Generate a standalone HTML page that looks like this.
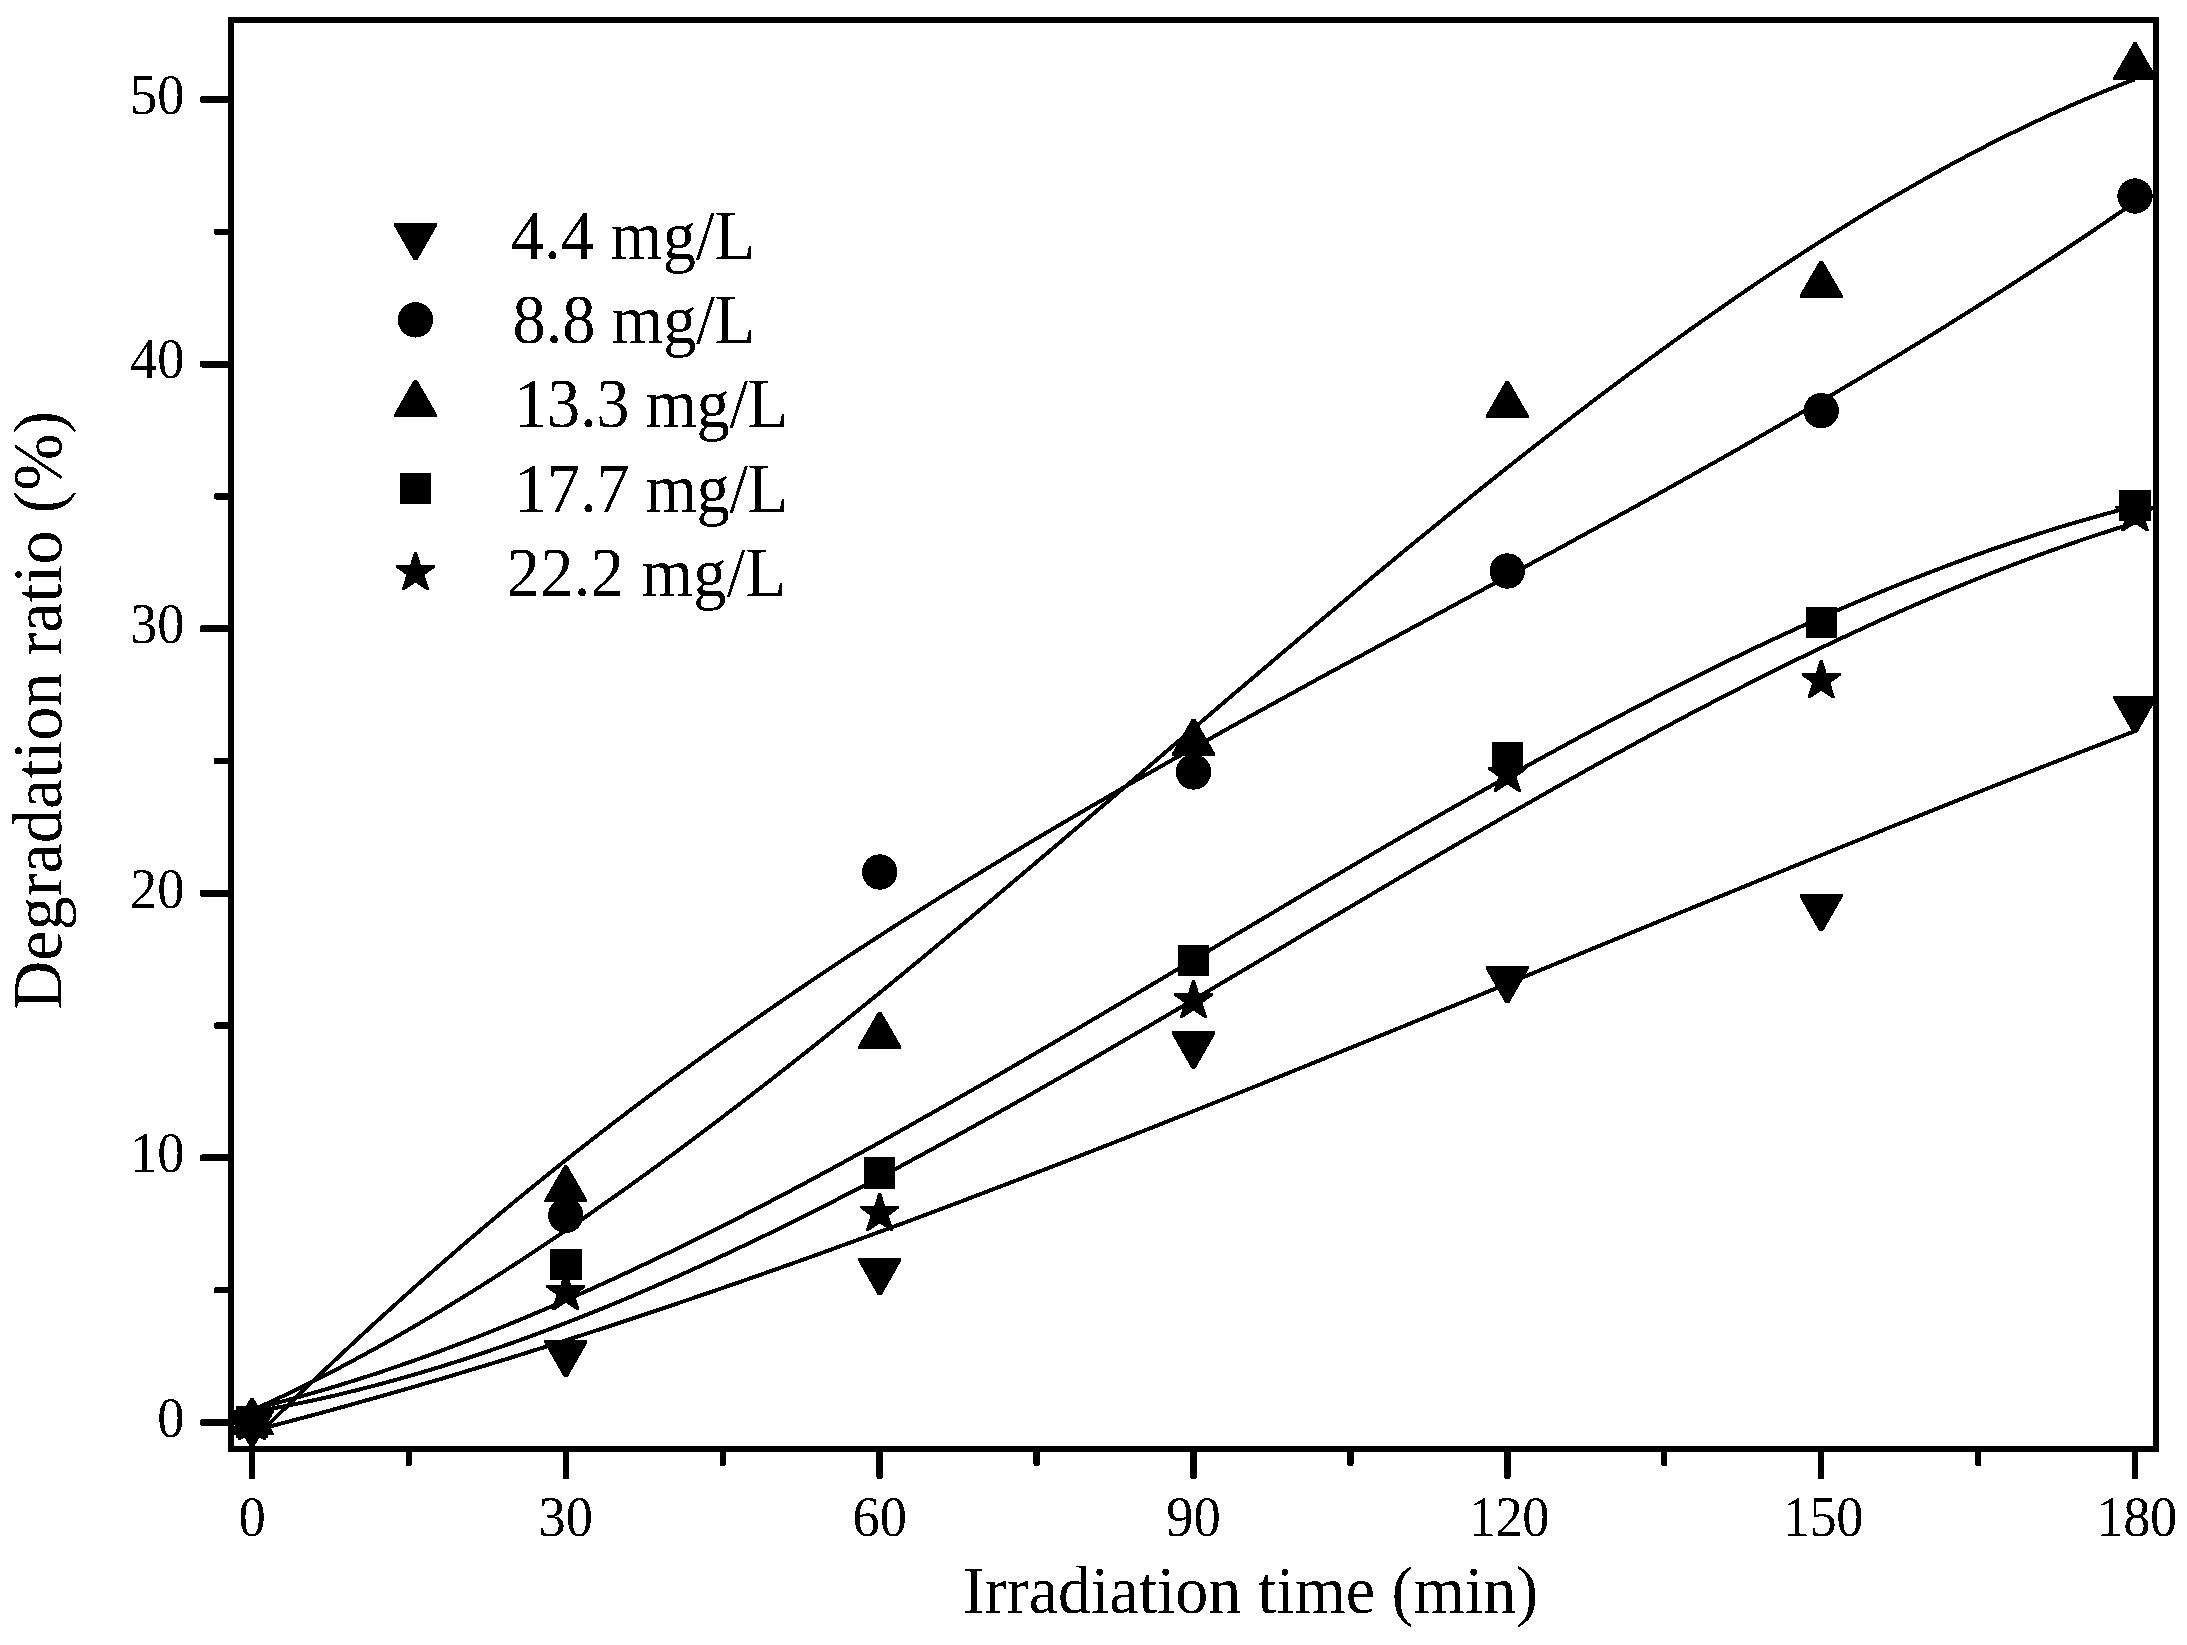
<!DOCTYPE html>
<html lang="en"><head><meta charset="utf-8"><title>Degradation ratio vs irradiation time</title>
<style>html,body{margin:0;padding:0;background:#fff;overflow:hidden}body{width:2187px;height:1645px;overflow:hidden}svg{display:block}text{font-family:'Liberation Serif', serif;fill:#000}</style></head><body>
<svg width="2187" height="1645" shape-rendering="crispEdges" viewBox="0 0 2187 1645">
<rect width="2187" height="1645" fill="#fff"/>
<defs><filter id="bilevel" x="0" y="0" width="100%" height="100%" filterUnits="userSpaceOnUse" color-interpolation-filters="sRGB"><feComponentTransfer><feFuncA type="discrete" tableValues="0 1"/></feComponentTransfer></filter></defs>
<g fill="none" stroke="#000" stroke-width="4.0" stroke-linejoin="round">
<polyline points="252.0,1431.1 272.9,1425.7 293.8,1420.2 314.8,1414.6 335.7,1408.9 356.6,1403.1 377.5,1397.2 398.5,1391.3 419.4,1385.2 440.3,1379.1 461.2,1372.8 482.1,1366.5 503.1,1360.1 524.0,1353.6 544.9,1347.0 565.8,1340.3 586.8,1333.6 607.7,1326.7 628.6,1319.8 649.5,1312.9 670.4,1305.8 691.4,1298.7 712.3,1291.5 733.2,1284.3 754.1,1277.0 775.1,1269.6 796.0,1262.2 816.9,1254.7 837.8,1247.1 858.7,1239.5 879.7,1231.8 900.6,1224.1 921.5,1216.3 942.4,1208.5 963.4,1200.6 984.3,1192.6 1005.2,1184.7 1026.1,1176.6 1047.0,1168.6 1068.0,1160.5 1088.9,1152.3 1109.8,1144.2 1130.7,1135.9 1151.7,1127.7 1172.6,1119.4 1193.5,1111.1 1214.4,1102.7 1235.3,1094.4 1256.3,1086.0 1277.2,1077.5 1298.1,1069.1 1319.0,1060.6 1340.0,1052.1 1360.9,1043.6 1381.8,1035.1 1402.7,1026.6 1423.6,1018.0 1444.6,1009.4 1465.5,1000.9 1486.4,992.3 1507.3,983.7 1528.3,975.1 1549.2,966.5 1570.1,957.9 1591.0,949.3 1611.9,940.7 1632.9,932.1 1653.8,923.5 1674.7,914.9 1695.6,906.4 1716.6,897.8 1737.5,889.3 1758.4,880.7 1779.3,872.2 1800.2,863.7 1821.2,855.2 1842.1,846.7 1863.0,838.3 1883.9,829.8 1904.9,821.4 1925.8,813.1 1946.7,804.7 1967.6,796.4 1988.5,788.1 2009.5,779.8 2030.4,771.6 2051.3,763.4 2072.2,755.3 2093.2,747.2 2114.1,739.1 2135.0,731.1"/>
<polyline points="252.0,1441.0 272.9,1420.1 293.8,1399.6 314.8,1379.4 335.7,1359.5 356.6,1339.9 377.5,1320.6 398.5,1301.6 419.4,1282.9 440.3,1264.6 461.2,1246.5 482.1,1228.7 503.1,1211.1 524.0,1193.9 544.9,1176.9 565.8,1160.1 586.8,1143.6 607.7,1127.4 628.6,1111.4 649.5,1095.6 670.4,1080.0 691.4,1064.7 712.3,1049.6 733.2,1034.7 754.1,1020.0 775.1,1005.5 796.0,991.2 816.9,977.1 837.8,963.1 858.7,949.4 879.7,935.8 900.6,922.3 921.5,909.1 942.4,895.9 963.4,882.9 984.3,870.1 1005.2,857.4 1026.1,844.8 1047.0,832.3 1068.0,820.0 1088.9,807.7 1109.8,795.6 1130.7,783.5 1151.7,771.6 1172.6,759.7 1193.5,747.9 1214.4,736.2 1235.3,724.5 1256.3,712.9 1277.2,701.4 1298.1,689.9 1319.0,678.4 1340.0,667.0 1360.9,655.7 1381.8,644.3 1402.7,633.0 1423.6,621.7 1444.6,610.3 1465.5,599.0 1486.4,587.7 1507.3,576.4 1528.3,565.0 1549.2,553.7 1570.1,542.3 1591.0,530.8 1611.9,519.4 1632.9,507.9 1653.8,496.3 1674.7,484.7 1695.6,473.0 1716.6,461.2 1737.5,449.4 1758.4,437.4 1779.3,425.4 1800.2,413.3 1821.2,401.1 1842.1,388.8 1863.0,376.4 1883.9,363.9 1904.9,351.2 1925.8,338.4 1946.7,325.5 1967.6,312.4 1988.5,299.2 2009.5,285.8 2030.4,272.3 2051.3,258.6 2072.2,244.7 2093.2,230.7 2114.1,216.4 2135.0,202.0"/>
<polyline points="252.0,1410.5 272.9,1400.8 293.8,1390.9 314.8,1380.5 335.7,1369.8 356.6,1358.7 377.5,1347.3 398.5,1335.5 419.4,1323.4 440.3,1311.0 461.2,1298.3 482.1,1285.3 503.1,1271.9 524.0,1258.4 544.9,1244.5 565.8,1230.4 586.8,1216.0 607.7,1201.3 628.6,1186.5 649.5,1171.4 670.4,1156.1 691.4,1140.5 712.3,1124.8 733.2,1108.9 754.1,1092.8 775.1,1076.5 796.0,1060.1 816.9,1043.5 837.8,1026.7 858.7,1009.8 879.7,992.8 900.6,975.7 921.5,958.5 942.4,941.1 963.4,923.7 984.3,906.2 1005.2,888.6 1026.1,870.9 1047.0,853.2 1068.0,835.4 1088.9,817.6 1109.8,799.8 1130.7,782.0 1151.7,764.1 1172.6,746.2 1193.5,728.4 1214.4,710.6 1235.3,692.7 1256.3,675.0 1277.2,657.2 1298.1,639.6 1319.0,621.9 1340.0,604.4 1360.9,586.9 1381.8,569.5 1402.7,552.2 1423.6,535.1 1444.6,518.0 1465.5,501.1 1486.4,484.3 1507.3,467.6 1528.3,451.1 1549.2,434.8 1570.1,418.6 1591.0,402.6 1611.9,386.8 1632.9,371.2 1653.8,355.8 1674.7,340.6 1695.6,325.6 1716.6,310.9 1737.5,296.4 1758.4,282.1 1779.3,268.2 1800.2,254.5 1821.2,241.0 1842.1,227.9 1863.0,215.0 1883.9,202.5 1904.9,190.3 1925.8,178.4 1946.7,166.8 1967.6,155.6 1988.5,144.7 2009.5,134.2 2030.4,124.1 2051.3,114.3 2072.2,104.9 2093.2,95.9 2114.1,87.3 2135.0,79.2"/>
<polyline points="252.0,1409.3 272.9,1404.0 293.8,1398.4 314.8,1392.5 335.7,1386.3 356.6,1379.8 377.5,1373.1 398.5,1366.0 419.4,1358.7 440.3,1351.1 461.2,1343.2 482.1,1335.1 503.1,1326.7 524.0,1318.1 544.9,1309.3 565.8,1300.2 586.8,1291.0 607.7,1281.5 628.6,1271.8 649.5,1261.9 670.4,1251.9 691.4,1241.6 712.3,1231.2 733.2,1220.6 754.1,1209.8 775.1,1198.9 796.0,1187.9 816.9,1176.7 837.8,1165.4 858.7,1153.9 879.7,1142.4 900.6,1130.7 921.5,1118.9 942.4,1107.1 963.4,1095.1 984.3,1083.1 1005.2,1071.0 1026.1,1058.8 1047.0,1046.6 1068.0,1034.3 1088.9,1021.9 1109.8,1009.6 1130.7,997.2 1151.7,984.7 1172.6,972.3 1193.5,959.8 1214.4,947.4 1235.3,934.9 1256.3,922.5 1277.2,910.1 1298.1,897.7 1319.0,885.3 1340.0,873.0 1360.9,860.7 1381.8,848.5 1402.7,836.4 1423.6,824.3 1444.6,812.3 1465.5,800.4 1486.4,788.6 1507.3,776.8 1528.3,765.2 1549.2,753.7 1570.1,742.3 1591.0,731.0 1611.9,719.9 1632.9,708.9 1653.8,698.1 1674.7,687.4 1695.6,676.9 1716.6,666.5 1737.5,656.3 1758.4,646.3 1779.3,636.5 1800.2,626.9 1821.2,617.5 1842.1,608.3 1863.0,599.4 1883.9,590.6 1904.9,582.1 1925.8,573.9 1946.7,565.9 1967.6,558.1 1988.5,550.6 2009.5,543.4 2030.4,536.5 2051.3,529.8 2072.2,523.4 2093.2,517.4 2114.1,511.6 2135.0,506.1"/>
<polyline points="252.0,1412.1 272.9,1408.4 293.8,1404.4 314.8,1400.0 335.7,1395.3 356.6,1390.2 377.5,1384.8 398.5,1379.1 419.4,1373.1 440.3,1366.8 461.2,1360.2 482.1,1353.3 503.1,1346.1 524.0,1338.7 544.9,1330.9 565.8,1323.0 586.8,1314.7 607.7,1306.3 628.6,1297.6 649.5,1288.6 670.4,1279.5 691.4,1270.1 712.3,1260.5 733.2,1250.7 754.1,1240.8 775.1,1230.6 796.0,1220.3 816.9,1209.8 837.8,1199.1 858.7,1188.3 879.7,1177.3 900.6,1166.2 921.5,1154.9 942.4,1143.5 963.4,1132.0 984.3,1120.4 1005.2,1108.7 1026.1,1096.9 1047.0,1085.0 1068.0,1073.0 1088.9,1061.0 1109.8,1048.8 1130.7,1036.6 1151.7,1024.4 1172.6,1012.1 1193.5,999.8 1214.4,987.4 1235.3,975.0 1256.3,962.6 1277.2,950.2 1298.1,937.8 1319.0,925.3 1340.0,912.9 1360.9,900.6 1381.8,888.2 1402.7,875.9 1423.6,863.6 1444.6,851.4 1465.5,839.2 1486.4,827.1 1507.3,815.0 1528.3,803.1 1549.2,791.2 1570.1,779.4 1591.0,767.7 1611.9,756.1 1632.9,744.7 1653.8,733.3 1674.7,722.1 1695.6,711.0 1716.6,700.1 1737.5,689.3 1758.4,678.7 1779.3,668.2 1800.2,657.9 1821.2,647.8 1842.1,637.9 1863.0,628.2 1883.9,618.6 1904.9,609.3 1925.8,600.2 1946.7,591.3 1967.6,582.7 1988.5,574.3 2009.5,566.1 2030.4,558.2 2051.3,550.6 2072.2,543.2 2093.2,536.1 2114.1,529.3 2135.0,522.8"/>
</g>
<g fill="#000" stroke="none">
<polygon points="230.4,1410.0 273.6,1410.0 273.6,1412.6 253.9,1447.2 250.1,1447.2 230.4,1412.6"/>
<circle cx="252.0" cy="1422.5" r="17.7"/>
<polygon points="230.4,1435.0 230.4,1432.7 250.5,1397.8 253.5,1397.8 273.6,1432.7 273.6,1435.0"/>
<rect x="236.3" y="1406.3" width="31.4" height="31.4"/>
<polygon points="250.6,1401.4 253.4,1401.4 257.4,1414.5 271.6,1414.5 271.6,1416.9 261.2,1424.5 265.6,1438.1 265.6,1439.5 262.8,1439.5 252.0,1432.2 241.2,1439.5 238.4,1439.5 238.4,1438.1 242.8,1424.5 232.4,1416.9 232.4,1414.5 246.6,1414.5"/>
<polygon points="544.2,1339.9 587.4,1339.9 587.4,1342.5 567.7,1377.1 563.9,1377.1 544.2,1342.5"/>
<circle cx="565.8" cy="1215.4" r="17.7"/>
<polygon points="544.2,1202.4 544.2,1200.1 564.3,1165.2 567.3,1165.2 587.4,1200.1 587.4,1202.4"/>
<rect x="550.1" y="1248.8" width="31.4" height="31.4"/>
<polygon points="564.4,1271.9 567.2,1271.9 571.2,1285.0 585.4,1285.0 585.4,1287.4 575.0,1295.0 579.4,1308.6 579.4,1310.0 576.6,1310.0 565.8,1302.7 555.0,1310.0 552.2,1310.0 552.2,1308.6 556.6,1295.0 546.2,1287.4 546.2,1285.0 560.4,1285.0"/>
<polygon points="858.1,1258.0 901.3,1258.0 901.3,1260.6 881.6,1295.2 877.8,1295.2 858.1,1260.6"/>
<circle cx="879.7" cy="872.0" r="17.7"/>
<polygon points="858.1,1048.7 858.1,1046.4 878.2,1011.5 881.2,1011.5 901.3,1046.4 901.3,1048.7"/>
<rect x="864.0" y="1157.3" width="31.4" height="31.4"/>
<polygon points="878.3,1192.7 881.1,1192.7 885.1,1205.8 899.3,1205.8 899.3,1208.2 888.9,1215.8 893.3,1229.4 893.3,1230.8 890.5,1230.8 879.7,1223.5 868.9,1230.8 866.1,1230.8 866.1,1229.4 870.5,1215.8 860.1,1208.2 860.1,1205.8 874.3,1205.8"/>
<polygon points="1171.9,1031.4 1215.1,1031.4 1215.1,1034.0 1195.4,1068.6 1191.6,1068.6 1171.9,1034.0"/>
<circle cx="1193.5" cy="772.0" r="17.7"/>
<polygon points="1171.9,755.7 1171.9,753.4 1192.0,718.5 1195.0,718.5 1215.1,753.4 1215.1,755.7"/>
<rect x="1177.8" y="944.9" width="31.4" height="31.4"/>
<polygon points="1192.1,979.9 1194.9,979.9 1198.9,993.0 1213.1,993.0 1213.1,995.4 1202.7,1003.0 1207.1,1016.6 1207.1,1018.0 1204.3,1018.0 1193.5,1010.7 1182.7,1018.0 1179.9,1018.0 1179.9,1016.6 1184.3,1003.0 1173.9,995.4 1173.9,993.0 1188.1,993.0"/>
<polygon points="1485.7,966.0 1528.9,966.0 1528.9,968.6 1509.2,1003.2 1505.4,1003.2 1485.7,968.6"/>
<circle cx="1507.3" cy="571.0" r="17.7"/>
<polygon points="1485.7,417.9 1485.7,415.6 1505.8,380.7 1508.8,380.7 1528.9,415.6 1528.9,417.9"/>
<rect x="1491.6" y="741.9" width="31.4" height="31.4"/>
<polygon points="1505.9,753.7 1508.7,753.7 1512.7,766.8 1526.9,766.8 1526.9,769.2 1516.5,776.8 1520.9,790.4 1520.9,791.8 1518.1,791.8 1507.3,784.5 1496.5,791.8 1493.7,791.8 1493.7,790.4 1498.1,776.8 1487.7,769.2 1487.7,766.8 1501.9,766.8"/>
<polygon points="1799.6,894.0 1842.8,894.0 1842.8,896.6 1823.1,931.2 1819.2,931.2 1799.6,896.6"/>
<circle cx="1821.2" cy="410.7" r="17.7"/>
<polygon points="1799.6,297.7 1799.6,295.4 1819.7,260.5 1822.7,260.5 1842.8,295.4 1842.8,297.7"/>
<rect x="1805.5" y="606.7" width="31.4" height="31.4"/>
<polygon points="1819.8,659.9 1822.6,659.9 1826.6,673.0 1840.8,673.0 1840.8,675.4 1830.4,683.0 1834.8,696.6 1834.8,698.0 1832.0,698.0 1821.2,690.7 1810.4,698.0 1807.6,698.0 1807.6,696.6 1812.0,683.0 1801.6,675.4 1801.6,673.0 1815.8,673.0"/>
<polygon points="2113.4,696.2 2156.6,696.2 2156.6,698.8 2136.9,733.4 2133.1,733.4 2113.4,698.8"/>
<circle cx="2135.0" cy="196.0" r="17.7"/>
<polygon points="2113.4,79.6 2113.4,77.3 2133.5,42.4 2136.5,42.4 2156.6,77.3 2156.6,79.6"/>
<rect x="2119.3" y="489.6" width="31.4" height="31.4"/>
<polygon points="2133.6,492.9 2136.4,492.9 2140.4,506.0 2154.6,506.0 2154.6,508.4 2144.2,516.0 2148.6,529.6 2148.6,531.0 2145.8,531.0 2135.0,523.7 2124.2,531.0 2121.4,531.0 2121.4,529.6 2125.8,516.0 2115.4,508.4 2115.4,506.0 2129.6,506.0"/>
</g>
<g fill="#000">
<rect x="200.0" y="1419.00" width="31.0" height="7.0" rx="2.2"/>
<rect x="214.0" y="1287.00" width="17.0" height="6.4" rx="2.2"/>
<rect x="200.0" y="1154.40" width="31.0" height="7.0" rx="2.2"/>
<rect x="214.0" y="1022.40" width="17.0" height="6.4" rx="2.2"/>
<rect x="200.0" y="889.80" width="31.0" height="7.0" rx="2.2"/>
<rect x="214.0" y="757.80" width="17.0" height="6.4" rx="2.2"/>
<rect x="200.0" y="625.20" width="31.0" height="7.0" rx="2.2"/>
<rect x="214.0" y="493.20" width="17.0" height="6.4" rx="2.2"/>
<rect x="200.0" y="360.60" width="31.0" height="7.0" rx="2.2"/>
<rect x="214.0" y="228.60" width="17.0" height="6.4" rx="2.2"/>
<rect x="200.0" y="96.00" width="31.0" height="7.0" rx="2.2"/>
<rect x="248.75" y="1449.0" width="6.5" height="30.2" rx="2.2"/>
<rect x="405.66" y="1449.0" width="6.5" height="17.0" rx="2.2"/>
<rect x="562.58" y="1449.0" width="6.5" height="30.2" rx="2.2"/>
<rect x="719.50" y="1449.0" width="6.5" height="17.0" rx="2.2"/>
<rect x="876.41" y="1449.0" width="6.5" height="30.2" rx="2.2"/>
<rect x="1033.33" y="1449.0" width="6.5" height="17.0" rx="2.2"/>
<rect x="1190.24" y="1449.0" width="6.5" height="30.2" rx="2.2"/>
<rect x="1347.15" y="1449.0" width="6.5" height="17.0" rx="2.2"/>
<rect x="1504.07" y="1449.0" width="6.5" height="30.2" rx="2.2"/>
<rect x="1660.99" y="1449.0" width="6.5" height="17.0" rx="2.2"/>
<rect x="1817.90" y="1449.0" width="6.5" height="30.2" rx="2.2"/>
<rect x="1974.82" y="1449.0" width="6.5" height="17.0" rx="2.2"/>
<rect x="2131.73" y="1449.0" width="6.5" height="30.2" rx="2.2"/>
</g>
<rect x="231.0" y="20.0" width="1925.0" height="1429.0" fill="none" stroke="#000" stroke-width="6.0"/>
<g filter="url(#bilevel)">
<text transform="translate(184.5,1436.8) scale(1.000,1.030)" font-size="54.5" text-anchor="end">0</text>
<text transform="translate(184.5,1172.2) scale(1.000,1.030)" font-size="54.5" text-anchor="end">10</text>
<text transform="translate(184.5,907.6) scale(1.000,1.030)" font-size="54.5" text-anchor="end">20</text>
<text transform="translate(184.5,643.0) scale(1.000,1.030)" font-size="54.5" text-anchor="end">30</text>
<text transform="translate(184.5,378.4) scale(1.000,1.030)" font-size="54.5" text-anchor="end">40</text>
<text transform="translate(184.5,113.8) scale(1.000,1.030)" font-size="54.5" text-anchor="end">50</text>
<text transform="translate(252.0,1535.6) scale(1.000,1.030)" font-size="54.5" text-anchor="middle">0</text>
<text transform="translate(565.8,1535.6) scale(1.000,1.030)" font-size="54.5" text-anchor="middle">30</text>
<text transform="translate(879.7,1535.6) scale(1.000,1.030)" font-size="54.5" text-anchor="middle">60</text>
<text transform="translate(1193.5,1535.6) scale(1.000,1.030)" font-size="54.5" text-anchor="middle">90</text>
<text transform="translate(1508.9,1535.6) scale(1.000,1.030)" font-size="54.5" text-anchor="middle" letter-spacing="-0.5">120</text>
<text transform="translate(1822.8,1535.6) scale(1.000,1.030)" font-size="54.5" text-anchor="middle" letter-spacing="-0.5">150</text>
<text transform="translate(2136.6,1535.6) scale(1.000,1.030)" font-size="54.5" text-anchor="middle" letter-spacing="-0.5">180</text>
<text transform="translate(1250.5,1613.5) scale(1.000,1.020)" font-size="66.0" text-anchor="middle">Irradiation time (min)</text>
<text transform="translate(61.0,710.5) rotate(-90) scale(1.000,1.010)" font-size="68.3" text-anchor="middle">Degradation ratio (%)</text>
<text transform="translate(510.7,258.8) scale(1.000,1.040)" font-size="66.4" text-anchor="start" letter-spacing="0.14">4.4 mg/L</text>
<text transform="translate(512.6,343.0) scale(1.000,1.040)" font-size="66.4" text-anchor="start" letter-spacing="-0.13">8.8 mg/L</text>
<text transform="translate(514.2,427.2) scale(1.000,1.040)" font-size="66.4" text-anchor="start" letter-spacing="-0.35">13.3 mg/L</text>
<text transform="translate(514.2,512.0) scale(1.000,1.040)" font-size="66.4" text-anchor="start" letter-spacing="-0.35">17.7 mg/L</text>
<text transform="translate(506.8,595.8) scale(1.000,1.040)" font-size="66.4" text-anchor="start" letter-spacing="0.34">22.2 mg/L</text>
</g>
<g fill="#000"><polygon points="393.9,222.9 437.1,222.9 437.1,225.5 417.4,260.1 413.6,260.1 393.9,225.5"/><circle cx="415.5" cy="319.9" r="17.7"/><polygon points="393.9,416.9 393.9,414.6 414.0,379.7 417.0,379.7 437.1,414.6 437.1,416.9"/><rect x="399.8" y="472.7" width="31.4" height="31.4"/><polygon points="414.1,551.9 416.9,551.9 420.9,565.0 435.1,565.0 435.1,567.4 424.7,575.0 429.1,588.6 429.1,590.0 426.3,590.0 415.5,582.7 404.7,590.0 401.9,590.0 401.9,588.6 406.3,575.0 395.9,567.4 395.9,565.0 410.1,565.0"/></g>
</svg></body></html>
